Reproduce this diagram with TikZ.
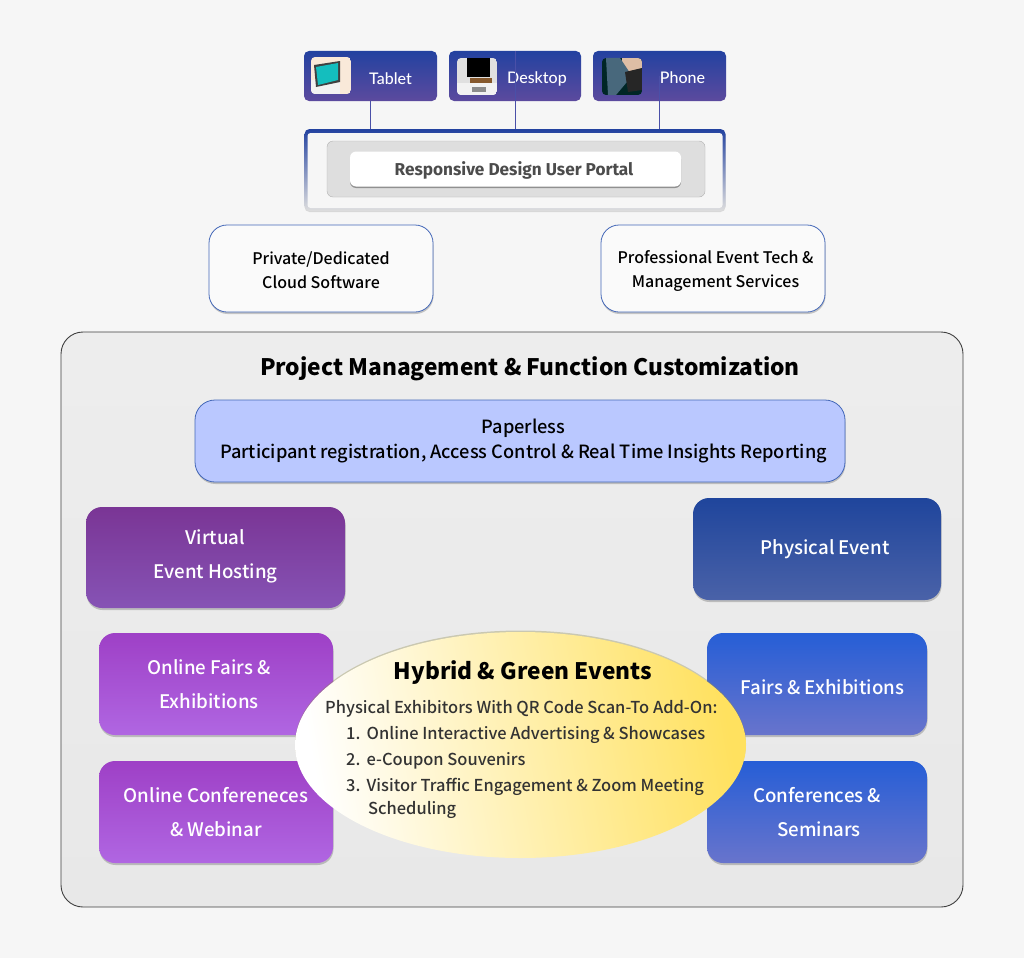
\documentclass[tikz,border=0pt]{standalone}
\usepackage{fontspec}
\setmainfont{Noto Sans CJK TC}[UprightFont=* Medium]
\newfontfamily\titlefont{Noto Sans CJK TC}
\newfontfamily\devicefont{Lato}[UprightFont=* Medium]
\newfontfamily\portalfont{Fira Sans}
\usetikzlibrary{shadows,shapes.geometric}
\definecolor{pagegray}{HTML}{F6F6F6}
\definecolor{linkblue}{HTML}{4A50A8}
\definecolor{edgeblue}{HTML}{4468B8}
\definecolor{devicetop}{RGB}{35,66,160}
\definecolor{devicebot}{RGB}{92,74,158}
\definecolor{tabletteal}{RGB}{20,190,190}
\definecolor{phoneback}{RGB}{72,104,124}
\definecolor{skintone}{RGB}{222,190,165}
\newcommand{\dropline}[2][2pt]{\raisebox{-#1}[\height][\depth]{#2}}
\tikzset{%
	softshadow/.style = {drop shadow={shadow xshift=0.5pt,shadow yshift=-2pt,fill=black,opacity=0.2}},
	device/.style     = {rectangle, rounded corners=5pt, minimum width=133pt, minimum height=50pt, top color=devicetop, bottom color=devicebot, text=white, font=\devicefont\fontsize{16}{18}\selectfont},
	service/.style    = {draw=edgeblue, line width=0.8pt, rectangle, rounded corners=18pt, minimum width=224pt, minimum height=87pt, fill=pagegray!50!white, align=center, softshadow, font=\fontsize{16}{24}\selectfont},
	tile/.style       = {rectangle, rounded corners=16pt, minimum width=234pt, minimum height=102pt, text=white, align=center, softshadow, font=\fontsize{18.7}{33.5}\selectfont},
	purpletile/.style = {tile, top color={rgb,255:red,158;green,64;blue,198}, bottom color={rgb,255:red,176;green,102;blue,226}},
	bluetile/.style   = {tile, minimum width=220pt, top color={rgb,255:red,38;green,94;blue,214}, bottom color={rgb,255:red,104;green,116;blue,204}},
	titletext/.style  = {text=black, font=\titlefont\fontsize{22.7}{28}\selectfont\bfseries},
	listitem/.style   = {anchor=base west, inner sep=0pt, text=black!80, font=\fontsize{16.45}{20}\selectfont},
	link/.style       = {draw=linkblue, line width=1pt},
}
\begin{document}
\begin{tikzpicture}[x=1pt,y=-1pt]
	\fill[pagegray] (0,0) rectangle (1024,958);
	\useasboundingbox (0,0) rectangle (1024,958);

	% devices
	\node [device] (tablet) at (370.5,76) {\dropline[2.5pt]{\hspace*{40pt}Tablet}};
	\node [device, minimum width=132pt] (desktop) at (515,76) {\dropline[2.5pt]{\hspace*{44pt}Desktop}};
	\node [device] (phone) at (659.5,76) {\dropline[1.5pt]{\hspace*{46pt}Phone}};

	% thumbnails
	\begin{scope}
		\clip[rounded corners=4pt] (311,57) rectangle (351,94);
		\fill[black!15!orange!15!white] (311,57) rectangle (351,94);
		\fill[white!90!gray] (311,80) rectangle (340,94);
		\fill[black!75] (314,65) -- (340,61) -- (340,82) -- (316,87) -- cycle;
		\fill[tabletteal] (316,67) -- (338,63) -- (338,80) -- (318,85) -- cycle;
	\end{scope}
	\begin{scope}
		\clip[rounded corners=4pt] (457,58) rectangle (497,95);
		\fill[black!12] (457,58) rectangle (497,95);
		\fill[black] (467,58) rectangle (490,77);
		\fill[brown!70!black] (470,78) rectangle (492,83);
		\fill[white!90!gray] (457,83) rectangle (497,95);
		\fill[black!45] (472,87) rectangle (486,92);
	\end{scope}
	\begin{scope}
		\clip[rounded corners=4pt] (602,58) rectangle (642,95);
		\fill[black!70!teal] (602,58) rectangle (642,95);
		\fill[skintone] (622,58) rectangle (642,78);
		\fill[phoneback] (606,58) -- (620,58) -- (632,76) -- (616,95) -- (608,95) -- cycle;
		\fill[black!85] (625,72) -- (642,68) -- (642,90) -- (628,92) -- cycle;
	\end{scope}

	% portal
	\node [rectangle, rounded corners=5pt, minimum width=421pt, minimum height=82pt, top color=devicetop, middle color=devicetop!75!white, bottom color=black!13, drop shadow={shadow xshift=0pt,shadow yshift=-1pt,fill=black,opacity=0.12}] (portal) at (515,170) {};
	\node [rectangle, rounded corners=3pt, fill=pagegray, minimum width=415pt, minimum height=75pt] (portalface) at (515,170.5) {};
	\node [rectangle, rounded corners=6pt, draw=black!30, fill=black!13, minimum width=378pt, minimum height=56pt] (portalbar) at (516,169) {};
	\node [rectangle, rounded corners=6pt, fill=white, minimum width=331pt, minimum height=35pt, text=black!70, drop shadow={shadow xshift=0pt,shadow yshift=-1.5pt,fill=black,opacity=0.35}, font=\portalfont\fontsize{17.2}{20}\selectfont\bfseries] (portaltitle) at (515.5,169) {\dropline[1pt]{\hspace*{-3pt}Responsive Design User Portal}};

	\draw[link] (tablet.south) -- (tablet.south |- portal.north);
	\draw[link] (desktop.north) -- (desktop.north |- portal.north);
	\draw[link] (phone.center) -- (phone.center |- portal.north);

	% services
	\node [service] (cloud) at (321,268.5) {\dropline{Private/Dedicated}\\\dropline{Cloud Software}};
	\node [service] (tech) at (713,268.5) {\dropline{\hspace*{5pt}Professional Event Tech \&}\\\dropline{\hspace*{5pt}Management Services}};

	% main panel
	\node [draw=black!75, line width=0.9pt, rectangle, rounded corners=22pt, minimum width=902pt, minimum height=575pt, top color=black!7, bottom color=black!9] (panel) at (512,619.5) {};
	\node [titletext] (panelname) at (530,369) {Project Management \& Function Customization};

	\node [draw=edgeblue, line width=0.8pt, rectangle, rounded corners=20pt, minimum width=650pt, minimum height=82pt, fill={rgb,255:red,186;green,200;blue,255}, align=center, softshadow, font=\fontsize{18.2}{25.5}\selectfont] (paperless) at (520,441) {\hspace*{7pt}Paperless\\\hspace*{7pt}Participant registration, Access Control \& Real Time Insights Reporting};

	% event tiles
	\node [tile, minimum width=259pt, minimum height=101pt, top color={rgb,255:red,122;green,53;blue,149}, bottom color={rgb,255:red,134;green,83;blue,181}] (virtual) at (215.5,557.5) {\dropline[-1pt]{Virtual}\\\dropline[-1pt]{Event Hosting}};
	\node [tile, minimum width=248pt, top color={rgb,255:red,31;green,69;blue,156}, bottom color={rgb,255:red,74;green,98;blue,168}] (physical) at (817,549) {\hspace*{16pt}Physical Event};
	\node [purpletile] (onlinefairs) at (216,684) {\hspace*{-14pt}Online Fairs \&\\\hspace*{-14pt}Exhibitions};
	\node [purpletile] (onlineconf) at (216,812) {Online Confereneces\\\& Webinar};
	\node [bluetile] (fairs) at (817,684) {\dropline[3pt]{\hspace*{11pt}Fairs \& Exhibitions}};
	\node [bluetile] (conf) at (817,812) {Conferences \&\\\hspace*{4pt}Seminars};

	% hybrid ellipse
	\node [ellipse, minimum width=451pt, minimum height=226pt, inner sep=0pt, shading=axis, left color=white, right color={rgb,255:red,255;green,225;blue,95}, shading angle=100, drop shadow={shadow xshift=0pt,shadow yshift=1.5pt,fill=black!50!yellow,opacity=0.35}] (hybrid) at (520.5,745) {};
	\node [titletext] (hybridname) at (523,673) {Hybrid \& Green Events};
	\node [listitem] (addon) at (325,713) {Physical Exhibitors With QR Code Scan-To Add-On:};
	\node [listitem] (numa) at (346,739) {1.};
	\node [listitem] (itema) at (366.5,739) {Online Interactive Advertising \& Showcases};
	\node [listitem] (numb) at (346,765) {2.};
	\node [listitem] (itemb) at (366.5,765) {e-Coupon Souvenirs};
	\node [listitem] (numc) at (346,791) {3.};
	\node [listitem] (itemc) at (366.5,791) {Visitor Traffic Engagement \& Zoom Meeting};
	\node [listitem] (itemd) at (368,814) {Scheduling};
\end{tikzpicture}
\end{document}
